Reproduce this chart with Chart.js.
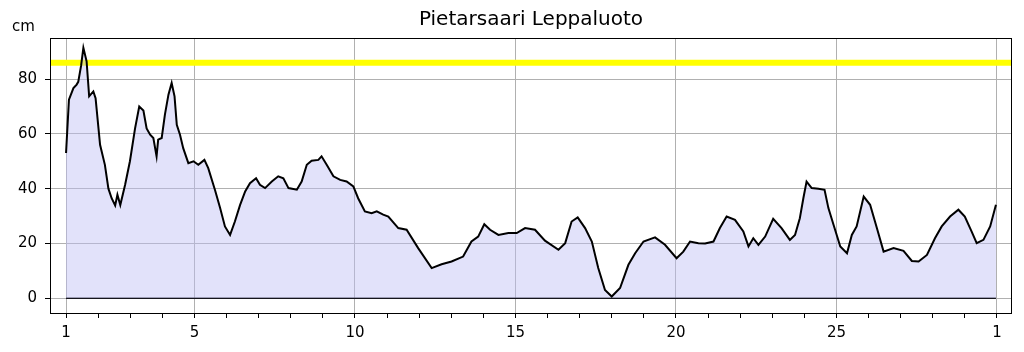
<!DOCTYPE html>
<html>
<head>
<meta charset="utf-8">
<title>Pietarsaari Leppaluoto</title>
<script src="https://cdn.jsdelivr.net/npm/chart.js@4.4.1/dist/chart.umd.min.js"></script>
<style>
  html, body { margin: 0; padding: 0; background: #fff; }
  #wrap { width: 1024px; height: 352px; position: relative; }
</style>
</head>
<body>
<div id="wrap"><canvas id="seaChart"></canvas></div>
<script>
const titleText = 'Pietarsaari Leppaluoto';
const unitLabel = 'cm';

// sea level readings, day of month (fractional) and level in cm
const days = [
  1.00, 1.09, 1.23, 1.33, 1.38, 1.47, 1.54, 1.64, 1.72, 1.85, 1.92,
  2.06, 2.21, 2.32, 2.42, 2.53, 2.60, 2.69, 2.84, 2.99,
  3.15, 3.28, 3.41, 3.51, 3.62, 3.72, 3.82, 3.87, 3.98,
  4.08, 4.19, 4.29, 4.38, 4.45, 4.55, 4.65, 4.81, 4.97,
  5.12, 5.31, 5.43, 5.64, 5.80, 5.95,
  6.11, 6.26, 6.42, 6.58, 6.73, 6.92,
  7.04, 7.20, 7.41, 7.61, 7.77, 7.93,
  8.19, 8.34, 8.50, 8.65, 8.86, 8.96,
  9.12, 9.33, 9.54, 9.74, 9.95,
  10.10, 10.31, 10.52, 10.68, 10.88, 11.04, 11.35, 11.61, 11.97,
  12.39, 12.70, 13.01, 13.37, 13.63, 13.84,
  14.03, 14.21, 14.47, 14.78, 15.04, 15.30, 15.61, 15.92,
  16.34, 16.55, 16.75, 16.94, 17.17, 17.38, 17.58, 17.79,
  18.00, 18.26, 18.52, 18.73, 18.99, 19.35, 19.66,
  20.02, 20.23, 20.44, 20.70, 20.91, 21.17, 21.37, 21.58, 21.84,
  22.10, 22.26, 22.41, 22.57, 22.78, 23.03, 23.29, 23.55, 23.71, 23.86, 23.97,
  24.07, 24.23, 24.44, 24.63, 24.75, 24.91, 25.12, 25.33, 25.48, 25.63, 25.85,
  26.05, 26.26, 26.47, 26.78, 27.09, 27.35, 27.56, 27.82,
  28.07, 28.28, 28.54, 28.80, 29.00, 29.21, 29.37, 29.58, 29.79, 29.97
];
const levels = [
  53, 72.5, 76.7, 78, 79, 85, 91.4, 86.5, 73.7, 75.5, 73,
  56, 48.7, 40, 36.5, 33.9, 37.8, 34, 41.4, 50,
  62, 70, 68.5, 62, 59.7, 58.5, 51.8, 57.9, 58.5,
  67, 74.3, 78.6, 73.7, 63.3, 59.7, 54.8, 49.3, 50,
  48.7, 50.5, 47.5, 39.5, 32.9, 26.2,
  23.1, 28, 34, 39, 42, 43.8,
  41.4, 40.2, 42.6, 44.5, 43.8, 40.2,
  39.6, 42.6, 48.7, 50.2, 50.5, 51.8,
  48.7, 44.5, 43.2, 42.6, 40.8,
  36.5, 31.7, 31, 31.7, 30.5, 29.8, 25.6, 25, 18.3,
  11, 12.4, 13.4, 15.2, 20.7, 22.5,
  27, 25, 23.1, 23.8, 23.8, 25.6, 25, 21,
  17.7, 20.1, 28, 29.5, 25.6, 20.7, 11, 3,
  0.6, 3.7, 12.2, 16.4, 20.7, 22.2, 19.5,
  14.6, 17, 20.7, 20.1, 20, 20.7, 25.6, 29.8, 28.6,
  24.4, 18.9, 21.9, 19.5, 22.5, 29, 25.6, 21.3, 23.1, 29.2, 36.5,
  42.6, 40.2, 40, 39.6, 32.9, 26.8, 18.9, 16.4, 23.1, 26.2, 37.1,
  34.1, 25.6, 17, 18.3, 17.3, 13.6, 13.4, 15.8,
  21.9, 26.2, 29.8, 32.3, 29.8, 24.4, 20.1, 21.3, 26.2, 34.1
];

const alertLevel = 86;
const majorTickDays = [1, 5, 10, 15, 20, 25, 30];
const majorTickLabels = ['1', '5', '10', '15', '20', '25', '1'];
const yTicks = [0, 20, 40, 60, 80];

const xMin = 0.5, xMax = 30.47;
const yMin = -5.4, yMax = 95;

const dayTicks = [];
for (let d = 1; d <= 30; d++) dayTicks.push(d);

const seaPoints = days.map((d, i) => ({ x: d, y: levels[i] }));

// frame + title + unit label
const decorations = {
  id: 'decorations',
  afterDatasetsDraw(chart) {
    const { ctx, chartArea } = chart;
    ctx.save();
    ctx.strokeStyle = '#000';
    ctx.lineWidth = 1;
    ctx.strokeRect(chartArea.left + 0.5, chartArea.top + 0.5,
      chartArea.right - chartArea.left - 1, chartArea.bottom - chartArea.top);
    ctx.restore();
  },
  afterDraw(chart) {
    const { ctx, chartArea } = chart;
    ctx.save();
    ctx.fillStyle = '#000';
    ctx.textBaseline = 'middle';
    ctx.textAlign = 'center';
    ctx.font = '20px "DejaVu Sans"';
    ctx.fillText(titleText, (chartArea.left + chartArea.right) / 2, 20);
    ctx.textAlign = 'left';
    ctx.font = '15px "DejaVu Sans"';
    ctx.fillText(unitLabel, 12, 27);
    ctx.restore();
  }
};

const ctx = document.getElementById('seaChart').getContext('2d');
const chart = new Chart(ctx, {
  type: 'line',
  data: {
    datasets: [
      {
        label: 'Sea level',
        data: seaPoints,
        borderColor: '#000',
        borderWidth: 2,
        backgroundColor: 'rgba(190,190,245,0.45)',
        fill: 'origin',
        pointRadius: 0,
        tension: 0,
        order: 0
      },
      {
        label: 'Zero',
        data: [{ x: days[0], y: 0 }, { x: days[days.length - 1], y: 0 }],
        borderColor: '#000',
        borderWidth: 1.6,
        pointRadius: 0,
        fill: false,
        order: 1
      },
      {
        label: 'Alert',
        data: [{ x: xMin, y: alertLevel }, { x: xMax, y: alertLevel }],
        borderColor: '#ffff00',
        borderWidth: 6,
        pointRadius: 0,
        fill: false,
        order: 2
      }
    ]
  },
  options: {
    responsive: true,
    maintainAspectRatio: false,
    animation: false,
    layout: { padding: { top: 38, right: 12, left: 0, bottom: 0 } },
    plugins: {
      legend: { display: false },
      tooltip: { enabled: false },
      title: { display: false }
    },
    scales: {
      x: {
        type: 'linear',
        min: xMin,
        max: xMax,
        afterBuildTicks: axis => { axis.ticks = dayTicks.map(v => ({ value: v })); },
        afterFit: axis => { axis.height = 39; },
        border: { display: false },
        grid: {
          color: c => majorTickDays.includes(c.tick && c.tick.value) ? '#b0b0b0' : 'rgba(0,0,0,0)',
          lineWidth: 1,
          tickColor: '#000',
          tickLength: 5,
          drawTicks: true
        },
        ticks: {
          autoSkip: false,
          maxRotation: 0,
          padding: 6,
          color: '#000',
          font: { family: 'DejaVu Sans', size: 15 },
          callback: v => {
            const i = majorTickDays.indexOf(v);
            return i >= 0 ? majorTickLabels[i] : '';
          }
        }
      },
      y: {
        min: yMin,
        max: yMax,
        afterBuildTicks: axis => { axis.ticks = yTicks.map(v => ({ value: v })); },
        afterFit: axis => { axis.width = 50; },
        border: { display: false },
        grid: {
          color: '#b0b0b0',
          lineWidth: 1,
          tickColor: '#000',
          tickLength: 5
        },
        ticks: {
          padding: 8,
          color: '#000',
          font: { family: 'DejaVu Sans', size: 15 }
        }
      }
    }
  },
  plugins: [decorations]
});
</script>
</body>
</html>
